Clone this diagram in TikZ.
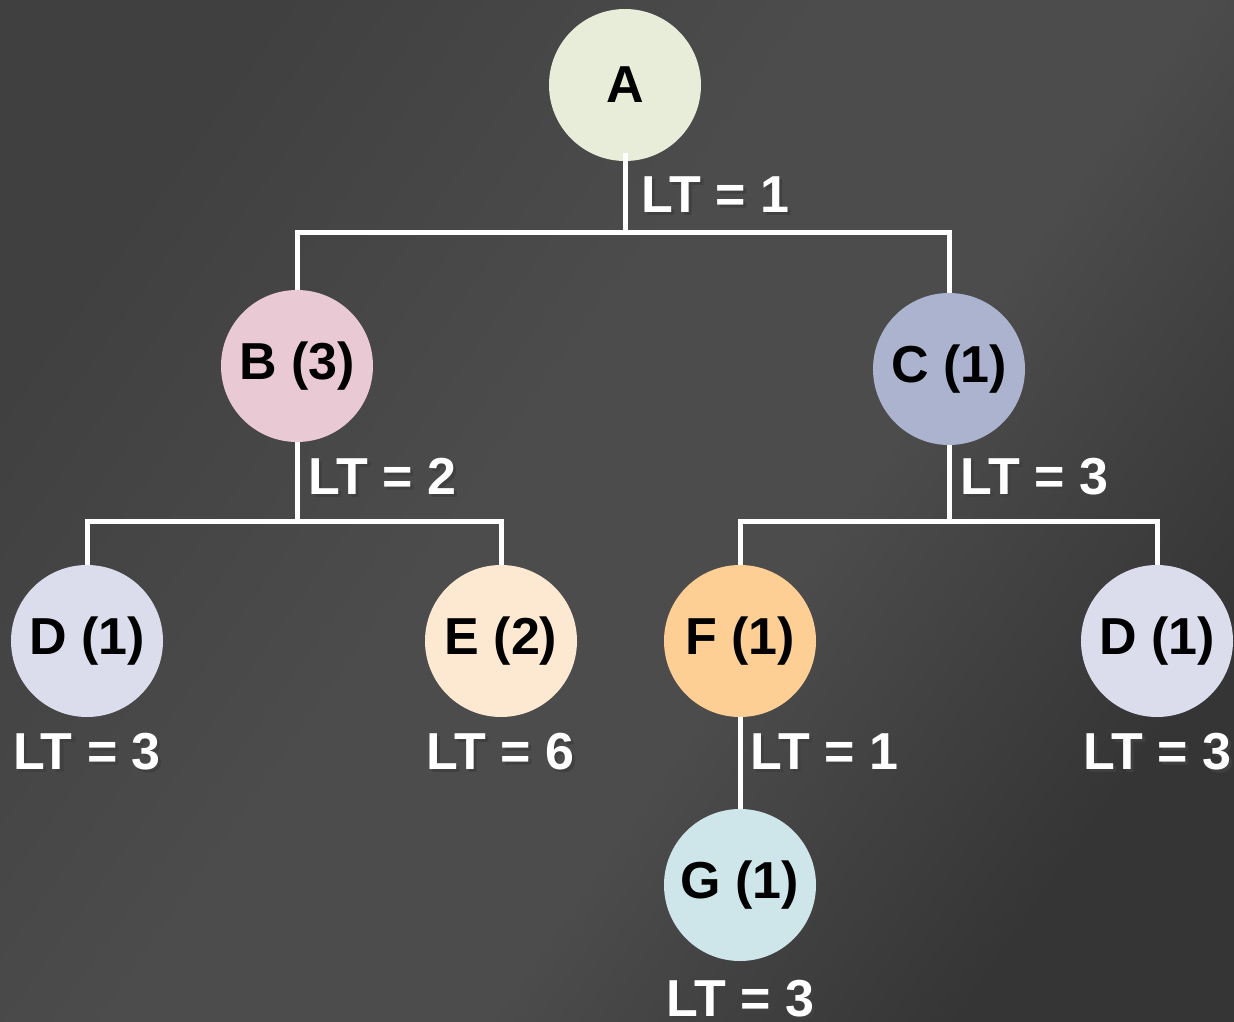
\documentclass[tikz,border=0pt]{standalone}
\usepackage{fontspec}
\setmainfont{Liberation Sans}
\definecolor{bgdark}{HTML}{353535}
\definecolor{bgmid}{HTML}{4C4C4C}
\definecolor{bgtl}{HTML}{404040}
\definecolor{cA}{HTML}{E8EDDA}
\definecolor{cB}{HTML}{E9C9D3}
\definecolor{cC}{HTML}{ABB3CF}
\definecolor{cD}{HTML}{DCDDEC}
\definecolor{cE}{HTML}{FDE9D2}
\definecolor{cF}{HTML}{FDCF95}
\definecolor{cG}{HTML}{CEE6EA}
\pgfdeclarehorizontalshading{bgshade}{100bp}{color(0bp)=(bgtl); color(25bp)=(bgtl); color(45bp)=(bgmid); color(58bp)=(bgmid); color(75bp)=(bgdark); color(100bp)=(bgdark)}
\newcommand\shtext[1]{\makebox[0pt][l]{\hspace{3pt}\raisebox{-3pt}{\textcolor{black!75}{#1}}}#1}
\tikzset{
  circnode/.style={circle, minimum size=152pt, inner sep=0pt, text=black,
    font=\fontsize{52}{60}\selectfont\bfseries},
  ltlabel/.style={inner sep=0pt, text=white, font=\fontsize{52}{60}\selectfont\bfseries},
  link/.style={draw=white, line width=5pt}
}
\begin{document}
\begin{tikzpicture}[x=1pt,y=-1pt]
\useasboundingbox (0,0) rectangle (1234,1022);
\fill[bgmid] (0,0) rectangle (1234,1022);
\shade[shading=bgshade, shading angle=-35] (0,0) rectangle (1234,1022);

\node[circnode, fill=cA] (A) at (625,85) {A};
\node[circnode, fill=cB] (B) at (297,366) {B (3)};
\node[circnode, fill=cC] (C) at (949,369) {C (1)};
\node[circnode, fill=cD] (D1) at (87,641) {D (1)};
\node[circnode, fill=cE] (E) at (501,641) {E (2)};
\node[circnode, fill=cF] (F) at (740,641) {F (1)};
\node[circnode, fill=cD] (D2) at (1157,641) {D (1)};
\node[circnode, fill=cG] (G) at (740,885) {G (1)};

\coordinate (Aj) at (625,232);
\coordinate (Bj) at (297,521);
\coordinate (Cj) at (949,521);

\draw[link] ([yshift=8pt]A.south) -- (Aj);
\draw[link] (B.north) |- (Aj) -| (C.north);
\draw[link] (B.south) -- (Bj);
\draw[link] (D1.north) |- (Bj) -| (E.north);
\draw[link] (C.south) -- (Cj);
\draw[link] (F.north) |- (Cj) -| (D2.north);
\draw[link] (F.south) -- (G.north);

\node[ltlabel, anchor=west] (l1) at (641,196) {\shtext{LT = 1}};
\node[ltlabel, anchor=west] (l2) at (308,478) {\shtext{LT = 2}};
\node[ltlabel, anchor=west] (l3) at (960,478) {\shtext{LT = 3}};
\node[ltlabel] (l4) at (87,753) {\shtext{LT = 3}};
\node[ltlabel] (l5) at (500,753) {\shtext{LT = 6}};
\node[ltlabel, anchor=west] (l6) at (750,753) {\shtext{LT = 1}};
\node[ltlabel] (l7) at (1157,753) {\shtext{LT = 3}};
\node[ltlabel] (l8) at (740,1000) {\shtext{LT = 3}};
\end{tikzpicture}
\end{document}
